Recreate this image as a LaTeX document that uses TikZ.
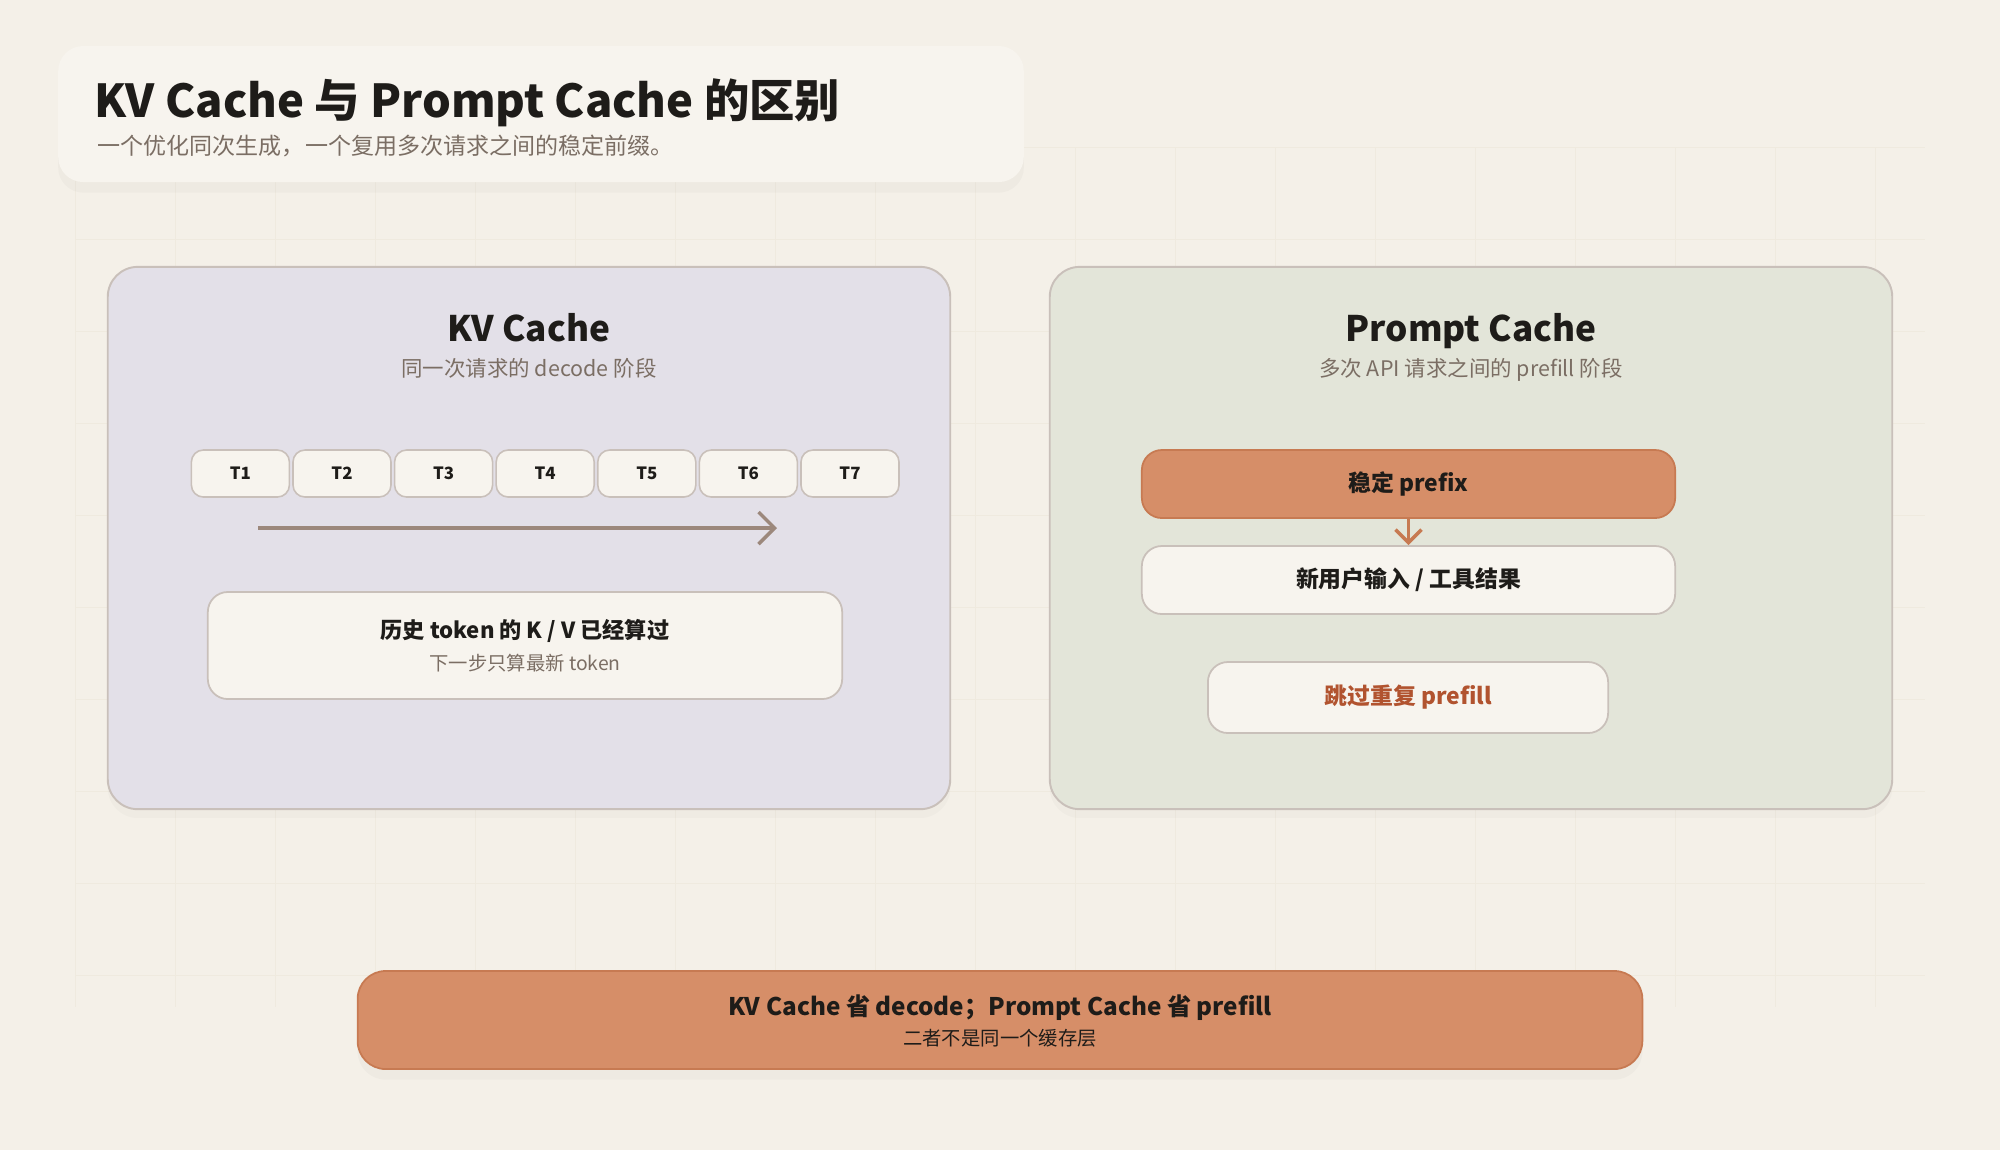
\documentclass[tikz,border=0pt]{standalone}
\usepackage{fontspec}
\setmainfont{Noto Sans CJK SC}
\usetikzlibrary{arrows.meta,positioning,shadows}
\definecolor{Paper}{HTML}{F4F0E8}
\definecolor{GridLine}{HTML}{EFEADF}
\definecolor{Card}{HTML}{F7F4EE}
\definecolor{Lilac}{HTML}{E3E0E8}
\definecolor{Sage}{HTML}{E3E5D9}
\definecolor{Edge}{HTML}{C9C0BA}
\definecolor{Ink}{HTML}{1E1C19}
\definecolor{Muted}{HTML}{7B6E64}
\definecolor{Clay}{HTML}{D68E68}
\definecolor{ClayDark}{HTML}{C77A52}
\definecolor{Rust}{HTML}{B1532F}
\definecolor{Taupe}{HTML}{9C887C}

\begin{document}
\begin{tikzpicture}[x=0.01cm,y=-0.01cm,
    soft/.style={drop shadow={opacity=0.04,shadow xshift=0pt,shadow yshift=-2.5pt}},
    panel/.style={rounded corners=0.3cm,draw=Edge,line width=0.55pt,soft},
    tok/.style={rounded corners=0.12cm,draw=Edge,line width=0.45pt,fill=Card,
      minimum width=0.98cm,minimum height=0.47cm,text=Ink,
      font=\fontsize{4.8}{6}\selectfont\bfseries},
    card/.style={rounded corners=0.2cm,draw=Edge,line width=0.5pt,fill=Card,
      text=Ink,font=\fontsize{6.5}{8}\selectfont\bfseries},
    hot/.style={card,fill=Clay,draw=ClayDark},
    head/.style={anchor=base,text=Ink,font=\fontsize{10}{12}\selectfont\bfseries},
    sub/.style={anchor=base,text=Muted,font=\fontsize{6.1}{8}\selectfont},
    arr/.style={-{Straight Barb[length=1.6mm,width=3.2mm]},line width=1pt}
  ]
    % page and faint grid
    \fill[Paper] (0,0) rectangle (2000,1150);
    \foreach \gx in {75,175,...,1925}\draw[GridLine,line width=0.25pt](\gx,147)--(\gx,1007);
    \foreach \gy in {147,239,...,1000}\draw[GridLine,line width=0.25pt](75,\gy)--(1925,\gy);

    % title card
    \node[rounded corners=0.25cm,fill=Card,minimum width=9.65cm,minimum height=1.36cm,
      drop shadow={opacity=0.05,shadow xshift=0pt,shadow yshift=-3pt}] (titlecard) at (541,114) {};
    \node[anchor=base west,inner sep=0pt,text=Ink,font=\fontsize{12.9}{16}\selectfont\bfseries]
      (title) at (94,117) {KV Cache 与 Prompt Cache 的区别};
    \node[anchor=base west,inner sep=0pt,text=Muted,font=\fontsize{6.55}{8}\selectfont]
      (subtitle) at (97,154) {一个优化同次生成，一个复用多次请求之间的稳定前缀。};

    % KV Cache side
    \node[panel,fill=Lilac,minimum width=8.42cm,minimum height=5.42cm] (kvpanel) at (529,538) {};
    \node[head] (kvhead) at (529,341) {KV Cache};
    \node[sub] (kvsub) at (529,376) {同一次请求的 decode 阶段};
    \foreach \i in {1,...,7}
      \node[tok] (t\i) at ({240.4+101.6*(\i-1)},473.5) {T\i};
    \coordinate (kvstart) at (258,528);
    \coordinate (kvend) at (777,528);
    \draw[arr,Taupe] (kvstart) -- (kvend);
    \node[card,minimum width=6.34cm,minimum height=1.07cm] (history) at (525,645.5) {};
    \node[anchor=base,text=Ink,font=\fontsize{6.3}{8}\selectfont\bfseries] (histtop)
      at (525,638) {历史 token 的 K / V 已经算过};
    \node[anchor=base,text=Muted,font=\fontsize{5.5}{7}\selectfont] (histbot)
      at (525,670) {下一步只算最新 token};

    % Prompt Cache side
    \node[panel,fill=Sage,minimum width=8.42cm,minimum height=5.42cm] (pcpanel) at (1471,538) {};
    \node[head] (pchead) at (1471,341) {Prompt Cache};
    \node[sub] (pcsub) at (1471,376) {多次 API 请求之间的 prefill 阶段};
    \node[hot,minimum width=5.33cm,minimum height=0.68cm] (prefix) at (1408.5,484) {稳定 prefix};
    \node[card,minimum width=5.33cm,minimum height=0.68cm] (newin) at (1408.5,580)
      {新用户输入 / 工具结果};
    \draw[arr,ClayDark,-{Straight Barb[length=1.3mm,width=2.6mm]}] (prefix) -- (newin);
    \node[card,text=Rust,minimum width=4cm,minimum height=0.71cm] (skip) at (1408,697.5)
      {跳过重复 prefill};

    % summary bar
    \node[hot,rounded corners=0.28cm,minimum width=12.84cm,minimum height=0.98cm,
      drop shadow={opacity=0.05,shadow xshift=0pt,shadow yshift=-3pt}] (summary) at (1000,1020) {};
    \node[anchor=base,text=Ink,font=\fontsize{6.9}{9}\selectfont\bfseries] (sumtop)
      at (1000,1015) {KV Cache 省 decode；Prompt Cache 省 prefill};
    \node[anchor=base,text=Ink,font=\fontsize{5.5}{7}\selectfont] (sumbot)
      at (1000,1045) {二者不是同一个缓存层};
  \end{tikzpicture}
\end{document}
